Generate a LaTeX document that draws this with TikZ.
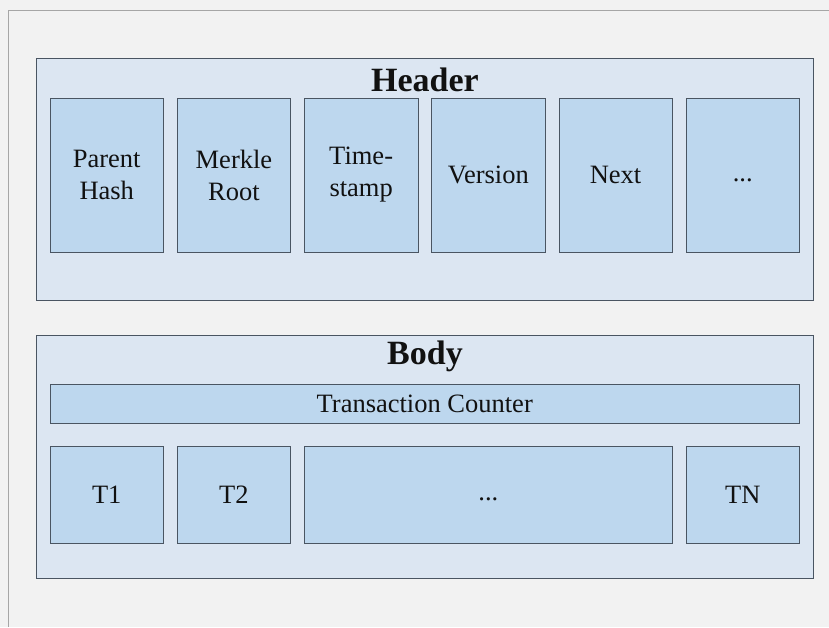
\documentclass[tikz,border=0pt]{standalone}
\usepackage{fontspec}
\setmainfont{Liberation Serif}
\usepackage{tikz}
\definecolor{pagebg}{HTML}{F2F2F2}
\definecolor{framegray}{HTML}{A6A6A6}
\definecolor{groupfill}{HTML}{DCE6F2}
\definecolor{cellfill}{HTML}{BDD7EE}
\definecolor{edgecol}{HTML}{4A5562}
\definecolor{inkcol}{HTML}{111111}

\begin{document}
\begin{tikzpicture}[x=1pt,y=-1pt]
			\tikzstyle{group}=[draw=edgecol,line width=0.8pt,fill=groupfill,rectangle,anchor=north west,inner sep=0pt,outer sep=0pt,minimum width=777pt]
			\tikzstyle{cell}=[draw=edgecol,line width=0.6pt,fill=cellfill,text=inkcol,rectangle,anchor=north west,inner sep=0pt,outer sep=0pt,text centered,align=center,font=\fontsize{26.5}{32}\selectfont]
			\tikzstyle{title}=[text=inkcol,font=\fontsize{34}{38}\selectfont\bfseries]
			
			% page and frame
			\fill[pagebg] (0,0) rectangle (829,627);
			\useasboundingbox (0,0) rectangle (829,627);
			\draw[framegray,line width=1pt] (8,627) -- (8,10) -- (829,10);
			
			% header
			\node[group,minimum height=242pt] (header) at (36,58) {};
			\node[title] (headertitle) at (425,80) {Header};
			\node[cell,minimum width=113.5pt,minimum height=154pt] (parent) at (50,98) {Parent\\Hash};
			\node[cell,minimum width=113.5pt,minimum height=154pt] (merkle) at (177.2,98) {Merkle\\Root};
			\node[cell,minimum width=113.5pt,minimum height=154pt] (stamp) at (304.4,98) {Time-\\stamp};
			\node[cell,minimum width=113.5pt,minimum height=154pt] (version) at (431.6,98) {Version};
			\node[cell,minimum width=113.5pt,minimum height=154pt] (next) at (558.8,98) {Next};
			\node[cell,minimum width=113.5pt,minimum height=154pt] (hmore) at (686,98) {\strut...};
			
			% body
			\node[group,minimum height=243pt] (body) at (36,335) {};
			\node[title] (bodytitle) at (425,356) {Body};
			\node[cell,minimum width=749.5pt,minimum height=39pt] (counter) at (50,384) {Transaction Counter};
			\node[cell,minimum width=113.5pt,minimum height=97pt] (tone) at (50,446) {T1};
			\node[cell,minimum width=113.5pt,minimum height=97pt] (ttwo) at (177.2,446) {T2};
			\node[cell,minimum width=367.9pt,minimum height=97pt] (tmore) at (304.4,446) {\strut...};
			\node[cell,minimum width=113.5pt,minimum height=97pt] (tn) at (686,446) {TN};
			
		\end{tikzpicture}
\end{document}
